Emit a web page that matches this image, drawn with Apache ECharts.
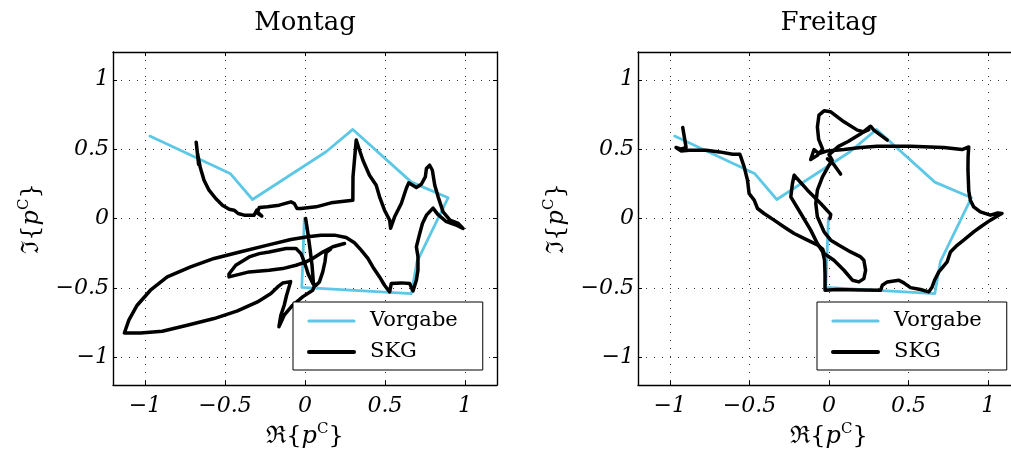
<!DOCTYPE html>
<html>
<head>
<meta charset="utf-8">
<script src="https://cdn.jsdelivr.net/npm/echarts@6.0.0/dist/echarts.min.js"></script>
<style>
  html, body { margin: 0; padding: 0; background: #fff; }
  #chart { width: 1011px; height: 455px; }
</style>
</head>
<body>
<div id="chart"></div>
<script>
// tick positions shared by both panels
const axisTicks = [-1, -0.5, 0, 0.5, 1];
const panelTitles = ['Montag', 'Freitag'];
const legendNames = ['Vorgabe', 'SKG'];

// reference trajectory (same for both days)
const vorgabe = [
  [-0.97, 0.594], [-0.468, 0.325], [-0.328, 0.137], [0.132, 0.481], [0.299, 0.642],
  [0.665, 0.262], [0.895, 0.15], [0.70, -0.31], [0.665, -0.541], [-0.02, -0.497], [-0.004, 0.0]
];

// measured trajectory, Montag (two strokes)
const montagSkgA = [
  [-0.68, 0.55], [-0.665, 0.39], [-0.672, 0.47], [-0.655, 0.37], [-0.631, 0.276], [-0.60, 0.204],
  [-0.558, 0.144], [-0.516, 0.096], [-0.474, 0.067], [-0.443, 0.06], [-0.418, 0.036], [-0.38, 0.024],
  [-0.318, 0.024], [-0.301, 0.06], [-0.293, 0.036], [-0.27, 0.017], [-0.297, 0.046], [-0.286, 0.079],
  [-0.234, 0.084], [-0.161, 0.096], [-0.088, 0.12], [-0.067, 0.108], [-0.05, 0.072], [-0.025, 0.072],
  [0.069, 0.084], [0.163, 0.113], [0.299, 0.132], [0.30, 0.30], [0.32, 0.565], [0.341, 0.492],
  [0.362, 0.42], [0.403, 0.312], [0.445, 0.24], [0.466, 0.156], [0.497, 0.06], [0.529, -0.012],
  [0.535, -0.07], [0.56, 0.012], [0.602, 0.108], [0.633, 0.216], [0.648, 0.257], [0.696, 0.224],
  [0.727, 0.247], [0.752, 0.30], [0.759, 0.36], [0.779, 0.384], [0.796, 0.348], [0.811, 0.24],
  [0.832, 0.156], [0.863, 0.048], [0.906, -0.012], [0.958, -0.036], [0.988, -0.072], [0.94, -0.045],
  [0.88, -0.02], [0.83, 0.03], [0.80, 0.075], [0.79, 0.084], [0.759, 0.024], [0.734, -0.036],
  [0.717, -0.108], [0.696, -0.204], [0.706, -0.276], [0.706, -0.373], [0.696, -0.445], [0.675, -0.522],
  [0.654, -0.469], [0.602, -0.464], [0.539, -0.469], [0.529, -0.529], [0.497, -0.481], [0.466, -0.421],
  [0.424, -0.349], [0.393, -0.288], [0.351, -0.228], [0.309, -0.175], [0.257, -0.137], [0.184, -0.12],
  [0.10, -0.12], [0.017, -0.132], [-0.088, -0.151], [-0.234, -0.192], [-0.401, -0.24], [-0.568, -0.288],
  [-0.715, -0.349], [-0.861, -0.421], [-0.966, -0.517], [-1.049, -0.625], [-1.101, -0.733], [-1.129, -0.825],
  [-1.028, -0.825], [-0.892, -0.813], [-0.736, -0.769], [-0.568, -0.721], [-0.422, -0.666], [-0.297, -0.601],
  [-0.213, -0.541], [-0.171, -0.493], [-0.14, -0.465], [-0.09, -0.455], [-0.115, -0.553], [-0.13, -0.625],
  [-0.151, -0.697], [-0.163, -0.78], [-0.13, -0.697], [-0.077, -0.625], [-0.015, -0.565], [0.048, -0.517],
  [0.058, -0.49], [0.052, -0.457], [0.044, -0.337], [0.031, -0.216], [0.017, -0.097], [0.004, 0.0]
];
const montagSkgB = [
  [0.247, -0.18], [0.174, -0.204], [0.111, -0.241], [0.048, -0.288], [0.006, -0.313], [-0.056, -0.337],
  [-0.14, -0.361], [-0.224, -0.373], [-0.349, -0.385], [-0.475, -0.421], [-0.475, -0.40], [-0.433, -0.337],
  [-0.349, -0.277], [-0.286, -0.253], [-0.224, -0.241], [-0.119, -0.216], [-0.056, -0.216], [-0.025, -0.253],
  [-0.004, -0.313], [0.02, -0.40], [0.05, -0.47], [0.069, -0.481], [0.09, -0.457], [0.111, -0.385],
  [0.125, -0.31], [0.132, -0.245], [0.16, -0.22]
];

// measured trajectory, Freitag (three strokes)
const freitagSkgA = [
  [-0.919, 0.656], [-0.909, 0.588], [-0.898, 0.512], [-0.93, 0.50], [-0.961, 0.512], [-0.93, 0.487],
  [-0.878, 0.492], [-0.772, 0.492], [-0.689, 0.48], [-0.605, 0.463], [-0.56, 0.463], [-0.554, 0.444],
  [-0.533, 0.372], [-0.512, 0.276], [-0.502, 0.18], [-0.47, 0.132], [-0.449, 0.072], [-0.408, 0.036],
  [-0.345, -0.012], [-0.282, -0.061], [-0.219, -0.108], [-0.135, -0.156], [-0.073, -0.19], [-0.04, -0.22],
  [-0.031, -0.252], [0.031, -0.301], [0.094, -0.373], [0.147, -0.445], [0.188, -0.457], [0.219, -0.433],
  [0.23, -0.373], [0.219, -0.301], [0.199, -0.277], [0.136, -0.241], [0.063, -0.193], [0.011, -0.156],
  [-0.031, -0.096], [-0.073, 0.012], [-0.083, 0.108], [-0.073, 0.204], [-0.041, 0.30], [0.0, 0.384],
  [0.02, 0.42], [0.0, 0.46], [0.06, 0.52], [0.12, 0.555], [0.20, 0.61], [0.261, 0.665],
  [0.282, 0.637], [0.324, 0.601], [0.366, 0.565]
];
const freitagSkgB = [
  [0.006, 0.0], [0.011, 0.03], [-0.052, 0.108], [-0.135, 0.204], [-0.219, 0.312], [-0.23, 0.25],
  [-0.24, 0.156], [-0.177, 0.036], [-0.115, -0.084], [-0.073, -0.18], [-0.04, -0.24], [-0.028, -0.30],
  [-0.025, -0.40], [-0.025, -0.517], [0.05, -0.512], [0.20, -0.515], [0.324, -0.517], [0.335, -0.481],
  [0.366, -0.457], [0.439, -0.445], [0.47, -0.464], [0.512, -0.498], [0.575, -0.512], [0.627, -0.529],
  [0.648, -0.493], [0.663, -0.445], [0.69, -0.385], [0.742, -0.313], [0.763, -0.241], [0.805, -0.193],
  [0.846, -0.156], [0.909, -0.096], [0.951, -0.061], [1.014, -0.012], [1.066, 0.024], [1.087, 0.036],
  [1.06, 0.04], [1.014, 0.024], [0.951, 0.048], [0.909, 0.084], [0.888, 0.132], [0.878, 0.20],
  [0.873, 0.35], [0.874, 0.45], [0.878, 0.516], [0.868, 0.528], [0.836, 0.497], [0.721, 0.512],
  [0.512, 0.521], [0.303, 0.521], [0.199, 0.512], [0.094, 0.497], [-0.01, 0.487], [-0.063, 0.468],
  [-0.094, 0.497], [-0.115, 0.425], [-0.073, 0.455], [-0.04, 0.50], [-0.065, 0.57], [-0.073, 0.66],
  [-0.063, 0.745], [-0.031, 0.776], [0.011, 0.769], [0.094, 0.697], [0.178, 0.637], [0.219, 0.624],
  [0.25, 0.64]
];
const freitagSkgC = [
  [-0.01, 0.43], [0.03, 0.39], [0.073, 0.32]
];

const panelSkg = [[montagSkgA, montagSkgB], [freitagSkgA, freitagSkgB, freitagSkgC]];

const serif = 'DejaVu Serif';
const blue = '#5cc8e6';

const chart = echarts.init(document.getElementById('chart'), null, { renderer: 'canvas' });

// the right panel runs past the canvas edge on purpose (cropped like the reference)
const grids = [
  { left: 113, top: 52, width: 384, height: 333, outerBoundsMode: 'none' },
  { left: 638, top: 52, width: 382, height: 333, outerBoundsMode: 'none' }
];
const centers = [305, 829];

function tickText(v) {
  return v < 0 ? '\u2212' + (-v) : String(v);
}

const nameStyle = {
  fontFamily: serif,
  fontSize: 24,
  color: '#000',
  lineHeight: 30,
  rich: {
    p: { fontFamily: serif, fontStyle: 'italic', fontSize: 24, lineHeight: 30 },
    s: { fontFamily: serif, fontSize: 15, lineHeight: 15, verticalAlign: 'top' }
  }
};

function mainAxis(dim, gridIndex) {
  const isX = dim === 'x';
  return {
    type: 'value',
    gridIndex: gridIndex,
    min: -1.2,
    max: 1.2,
    position: isX ? 'bottom' : 'left',
    axisLine: { onZero: false, lineStyle: { color: '#000', width: 1.4 } },
    axisTick: { inside: true, length: 4, customValues: axisTicks, lineStyle: { color: '#000', width: 1 } },
    axisLabel: {
      customValues: axisTicks,
      formatter: tickText,
      margin: isX ? 10 : 4,
      fontFamily: serif,
      fontStyle: 'italic',
      fontSize: 22,
      color: '#000'
    },
    splitLine: { show: true, lineStyle: { color: '#333', width: 1, type: [1, 7] } },
    name: isX ? 'ℜ{{p|p}{s|C}}' : 'ℑ{{p|p}{s|C}}',
    nameLocation: 'middle',
    nameGap: isX ? 36 : 66,
    nameRotate: isX ? 0 : 90,
    nameTextStyle: nameStyle
  };
}

// top / right edges of the box; the right one of Freitag lies off the canvas
function boxAxis(dim, gridIndex) {
  const isX = dim === 'x';
  return {
    type: 'value',
    gridIndex: gridIndex,
    min: -1.2,
    max: 1.2,
    position: isX ? 'top' : 'right',
    axisLine: { onZero: false, lineStyle: { color: '#000', width: 1.4 } },
    axisTick: { inside: true, length: 4, customValues: axisTicks, lineStyle: { color: '#000', width: 1 } },
    axisLabel: { show: false },
    splitLine: { show: false }
  };
}

const xAxes = [], yAxes = [], series = [], legends = [], titles = [];
[0, 1].forEach(function (g) {
  xAxes.push(mainAxis('x', g), boxAxis('x', g));
  yAxes.push(mainAxis('y', g), boxAxis('y', g));
  series.push({
    type: 'line', name: 'Vorgabe', xAxisIndex: g * 2, yAxisIndex: g * 2,
    data: vorgabe, symbol: 'none', showSymbol: false, silent: true, z: 2,
    itemStyle: { color: blue },
    lineStyle: { color: blue, width: 2.8, cap: 'round', join: 'round' }
  });
  panelSkg[g].forEach(function (seg) {
    series.push({
      type: 'line', name: 'SKG', xAxisIndex: g * 2, yAxisIndex: g * 2,
      data: seg, symbol: 'none', showSymbol: false, silent: true, z: 3,
      itemStyle: { color: '#000' },
      lineStyle: { color: '#000', width: 3.5, cap: 'round', join: 'round' }
    });
  });
  legends.push({
    left: g === 0 ? 293 : 817,
    top: 302,
    orient: 'vertical',
    data: [
      { name: legendNames[0], lineStyle: { width: 3.2 } },
      { name: legendNames[1], lineStyle: { width: 4 } }
    ],
    selectedMode: false,
    backgroundColor: '#fff',
    borderColor: '#000',
    borderWidth: 1,
    borderRadius: 0,
    padding: [8, 25, 7, 14],
    itemGap: 9,
    itemWidth: 45,
    itemHeight: 22,
    itemStyle: { opacity: 0 },
    textStyle: { fontFamily: serif, fontSize: 21, color: '#000', lineHeight: 22, padding: [0, 0, 0, 11] }
  });
  titles.push({
    text: panelTitles[g],
    left: centers[g],
    top: 23,
    padding: 0,
    textAlign: 'center',
    textVerticalAlign: 'middle',
    textStyle: { fontFamily: serif, fontWeight: 'normal', fontSize: 26, color: '#000' }
  });
});

chart.setOption({
  animation: false,
  backgroundColor: '#fff',
  title: titles,
  legend: legends,
  grid: grids,
  xAxis: xAxes,
  yAxis: yAxes,
  series: series
});
</script>
</body>
</html>
